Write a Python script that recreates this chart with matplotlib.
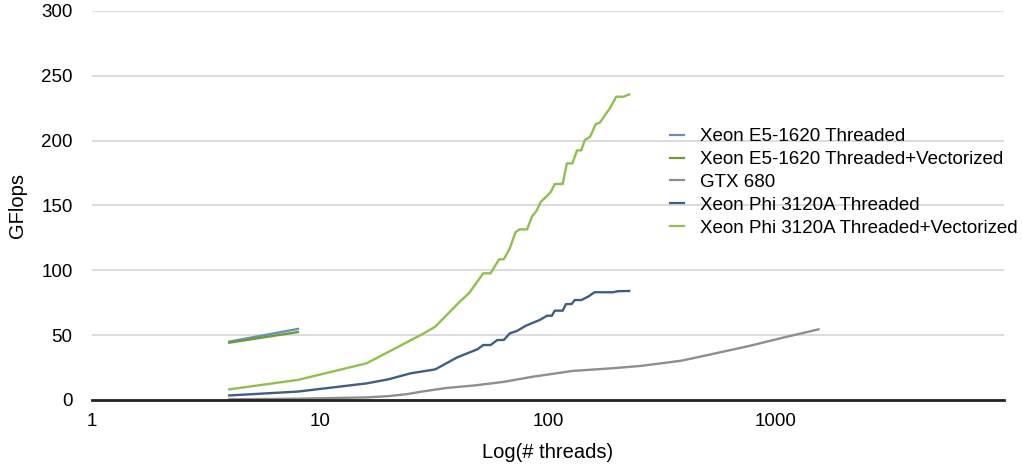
import matplotlib
matplotlib.use("Agg")
import matplotlib.pyplot as plt

plt.rcParams['font.family'] = ['Liberation Sans', 'DejaVu Sans']

# ---- data ----
e5_threads = [4, 8]
e5_threaded = [45.0, 54.8]
e5_vectorized = [44.2, 52.4]

gtx_threads = [4, 8, 16, 20, 24, 28, 32, 36, 48, 64, 86, 96, 128, 192, 256, 384, 512, 768, 1024, 1536]
gtx_gflops = [0.5, 1.0, 2.0, 3.0, 4.5, 6.5, 8.0, 9.3, 11.3, 14.0, 18.0, 19.2, 22.4, 24.5, 26.3, 30.3, 35.0, 41.8, 47.2, 54.5]

phi_t_threads = [4, 8, 16, 20, 25, 32, 40, 49, 52, 56, 60, 64, 68, 73, 80, 86, 92, 99, 104, 107, 116,
                 120, 127, 131, 140, 150, 160, 193, 203, 227]
phi_threaded = [3.5, 6.5, 12.8, 16.0, 20.6, 23.6, 32.9, 39.1, 42.4, 42.4, 46.3, 46.3, 51.4, 53.2, 57.3,
                59.6, 61.7, 65.0, 65.0, 68.9, 68.9, 74.0, 74.0, 77.1, 77.1, 79.7, 83.1, 83.1, 83.9, 84.1]

phi_v_threads = [4, 8, 16, 28, 32, 41, 45, 52, 56, 61, 64, 68, 72, 75, 81, 85, 89, 93, 99, 103, 107,
                 116, 121, 128, 134, 140, 145, 153, 162, 169, 180, 187, 199, 214, 227]
phi_vectorized = [8.2, 15.5, 28.3, 50.6, 56.5, 75.8, 82.3, 97.7, 97.7, 108.5, 108.5, 117.0, 129.3,
                  131.6, 131.6, 141.4, 145.8, 152.9, 157.3, 160.6, 166.6, 166.6, 182.5, 182.5, 192.5,
                  192.5, 200.5, 203.0, 212.8, 213.9, 221.1, 225.0, 233.9, 233.9, 235.7]

labels = ["Xeon E5-1620 Threaded", "Xeon E5-1620 Threaded+Vectorized", "GTX 680",
          "Xeon Phi 3120A Threaded", "Xeon Phi 3120A Threaded+Vectorized"]
colors = ["#6a8fb8", "#6b9b35", "#8e8e8e", "#3d5f84", "#8fbf4f"]
y_ticks = [0, 50, 100, 150, 200, 250, 300]
x_ticks = [1, 10, 100, 1000]
x_ticklabels = ["1", "10", "100", "1000"]

fig = plt.figure(figsize=(10.22, 4.68), dpi=100)
ax = fig.add_axes([92/1022, 1 - 400/468, (1004-92)/1022, (400-11)/468])

lw = 1.7
series = [
    (e5_threads, e5_threaded),
    (e5_threads, e5_vectorized),
    (gtx_threads, gtx_gflops),
    (phi_t_threads, phi_threaded),
    (phi_v_threads, phi_vectorized),
]
for (xs, ys), lab, c in zip(series, labels, colors):
    ax.plot(xs, ys, color=c, lw=lw, label=lab, solid_joinstyle='round', zorder=3)

ax.set_xscale('log')
ax.set_xlim(1, 10000)
ax.set_ylim(0, 300)
ax.set_yticks(y_ticks)
ax.set_xticks(x_ticks)
ax.set_xticklabels(x_ticklabels)
ax.xaxis.set_minor_locator(matplotlib.ticker.NullLocator())
ax.tick_params(axis='both', length=0, labelsize=13.5, colors='black')
ax.tick_params(axis='y', pad=14)
ax.tick_params(axis='x', pad=9)
ax.yaxis.grid(True, color='#d6d6d6', lw=1.2, zorder=0)
ax.set_axisbelow(True)
for s in ['top', 'right', 'left']:
    ax.spines[s].set_visible(False)
ax.spines['bottom'].set_color('#222222')
ax.spines['bottom'].set_linewidth(2.0)
ax.spines['bottom'].set_zorder(4)

ax.set_ylabel("GFlops", fontsize=14.5, labelpad=10)
ax.set_xlabel("Log(# threads)", fontsize=14.5, labelpad=10)

leg = fig.legend(loc='upper left', bbox_to_anchor=(670/1022, 1 - 128/468), frameon=False,
                 fontsize=13.5, handlelength=0.75, handletextpad=0.85, labelspacing=0.31,
                 borderpad=0, borderaxespad=0)
for h in leg.get_lines():
    h.set_linewidth(1.6)

fig.savefig("out.png", dpi=100)
